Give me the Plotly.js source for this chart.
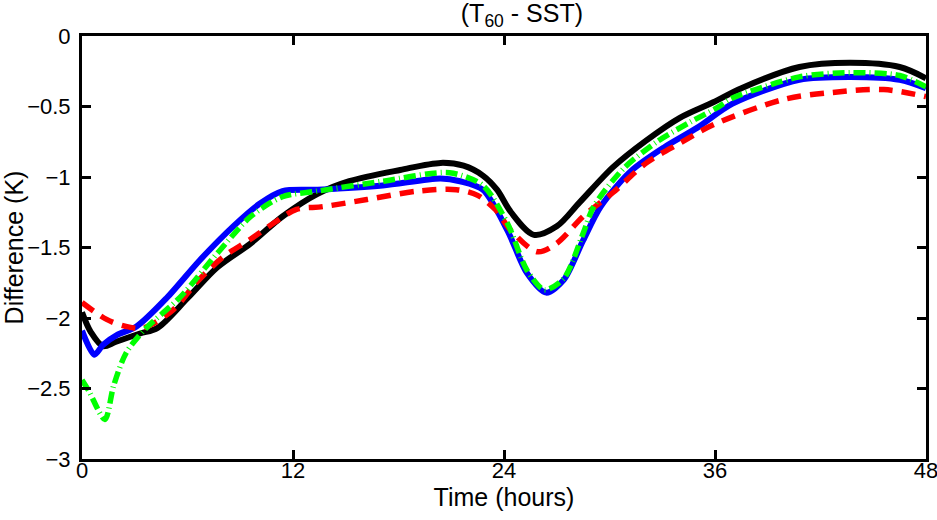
<!DOCTYPE html>
<html>
<head>
<meta charset="utf-8">
<script src="https://cdn.plot.ly/plotly-3.0.1.min.js"></script>
<style>html,body{margin:0;padding:0;background:#fff;}#chart{width:937px;height:520px;}</style>
</head>
<body>
<div id="chart"></div>
<script>
// Black solid series
const blackX = [0, 0.5, 1.2, 1.9, 3.3, 4.3, 6.0, 7.7, 9.6, 11.4, 13.4, 15.2, 18.1, 20.4, 21.7, 22.8, 23.6, 24.4, 25.7, 27.0, 28.3, 30.2, 32.1, 34.0, 35.9, 37.5, 40.8, 43.7, 46.5, 48];
const blackY = [-1.96, -2.10, -2.20, -2.17, -2.11, -2.07, -1.86, -1.64, -1.47, -1.28, -1.12, -1.03, -0.95, -0.90, -0.92, -0.99, -1.09, -1.25, -1.41, -1.35, -1.18, -0.93, -0.74, -0.58, -0.47, -0.37, -0.22, -0.19, -0.22, -0.30];
// Red dashed series
const redX = [0, 1.4, 2.5, 3.5, 5.2, 6.5, 8.0, 9.6, 11.1, 12.2, 13.7, 16.2, 19.1, 21.3, 22.5, 23.5, 24.4, 25.9, 27.0, 28.5, 30.2, 32.1, 34.0, 35.9, 39.9, 42.7, 45.6, 48];
const redY = [-1.89, -2.01, -2.06, -2.07, -1.94, -1.75, -1.57, -1.44, -1.31, -1.23, -1.21, -1.16, -1.10, -1.09, -1.13, -1.23, -1.38, -1.53, -1.47, -1.28, -1.11, -0.90, -0.76, -0.63, -0.45, -0.40, -0.38, -0.43];
// Blue solid series
const blueX = [0, 0.7, 1.2, 2.0, 3.1, 4.8, 6.7, 8.6, 10.1, 11.4, 13.4, 17.1, 20.4, 21.5, 22.8, 24.2, 25.3, 26.4, 27.4, 28.5, 29.5, 31.2, 33.1, 35.0, 37.0, 40.8, 43.7, 46.5, 48];
const blueY = [-2.09, -2.26, -2.19, -2.12, -2.06, -1.86, -1.59, -1.35, -1.19, -1.10, -1.09, -1.06, -1.01, -1.03, -1.09, -1.38, -1.68, -1.82, -1.73, -1.45, -1.21, -0.96, -0.79, -0.65, -0.48, -0.31, -0.29, -0.31, -0.37];
// Green dash-dot series
const greenX = [0, 0.4, 1.3, 1.8, 2.5, 3.5, 5.6, 7.7, 9.6, 11.4, 13.4, 17.1, 20.9, 22.8, 24.2, 25.3, 26.3, 27.4, 28.5, 29.1, 30.8, 32.7, 34.6, 36.1, 37.0, 40.8, 43.7, 46.5, 48];
const greenY = [-2.44, -2.52, -2.72, -2.48, -2.25, -2.09, -1.85, -1.54, -1.28, -1.14, -1.10, -1.03, -0.97, -1.06, -1.33, -1.66, -1.80, -1.72, -1.40, -1.21, -0.94, -0.75, -0.61, -0.51, -0.44, -0.29, -0.26, -0.28, -0.36];

const xTicks = [0, 12, 24, 36, 48];
const yTicks = [-3, -2.5, -2, -1.5, -1, -0.5, 0];
const yTickText = ['\u22123', '\u22122.5', '\u22122', '\u22121.5', '\u22121', '\u22120.5', '0'];

const traces = [
  {x: blackX, y: blackY, mode: 'lines', line: {color: '#000000', width: 6, shape: 'spline', smoothing: 0.9}},
  {x: blueX, y: blueY, mode: 'lines', line: {color: '#0000ff', width: 6, shape: 'spline', smoothing: 0.8}},
  {x: redX, y: redY, mode: 'lines', line: {color: '#ff0000', width: 5.5, dash: '14px,9px', shape: 'spline', smoothing: 0.9}},
  {x: greenX, y: greenY, mode: 'lines', line: {color: '#00ff00', width: 5.5, dash: '12px,4px,1px,4px', shape: 'spline', smoothing: 0.8}}
];

const font = {family: 'Liberation Sans, Arial, Helvetica, sans-serif', color: '#000', size: 22};

const layout = {
  width: 937, height: 520,
  margin: {l: 82, r: 11, t: 36, b: 61},
  paper_bgcolor: '#fff', plot_bgcolor: '#fff',
  showlegend: false,
  font: font,
  title: {
    text: '(T<sub>60</sub> - SST)',
    font: {family: font.family, size: 25, color: '#000'},
    xref: 'container', yref: 'container',
    x: 0.557, xanchor: 'center', y: 0.975, yanchor: 'middle'
  },
  xaxis: {
    range: [0, 48], tickvals: xTicks, ticktext: xTicks.map(String),
    ticks: 'inside', ticklen: 9, tickwidth: 3, tickcolor: '#000',
    showline: true, linewidth: 3, linecolor: '#000', mirror: 'ticks',
    showgrid: false, zeroline: false,
    tickfont: {family: font.family, size: 22, color: '#000'},
    ticklabelstandoff: -10,
    ticklabeloverflow: 'allow',
    title: {text: 'Time (hours)', font: {family: font.family, size: 25, color: '#000'}, standoff: 6}
  },
  yaxis: {
    range: [-3, 0], tickvals: yTicks, ticktext: yTickText,
    ticks: 'inside', ticklen: 9, tickwidth: 3, tickcolor: '#000',
    showline: true, linewidth: 3, linecolor: '#000', mirror: 'ticks',
    showgrid: false, zeroline: false,
    tickfont: {family: font.family, size: 22, color: '#000'},
    ticklabelstandoff: 4,
    ticklabeloverflow: 'allow',
    title: {text: 'Difference (K)', font: {family: font.family, size: 25, color: '#000'}, standoff: 4}
  }
};

Plotly.newPlot('chart', traces, layout, {staticPlot: true, displayModeBar: false});
</script>
</body>
</html>
